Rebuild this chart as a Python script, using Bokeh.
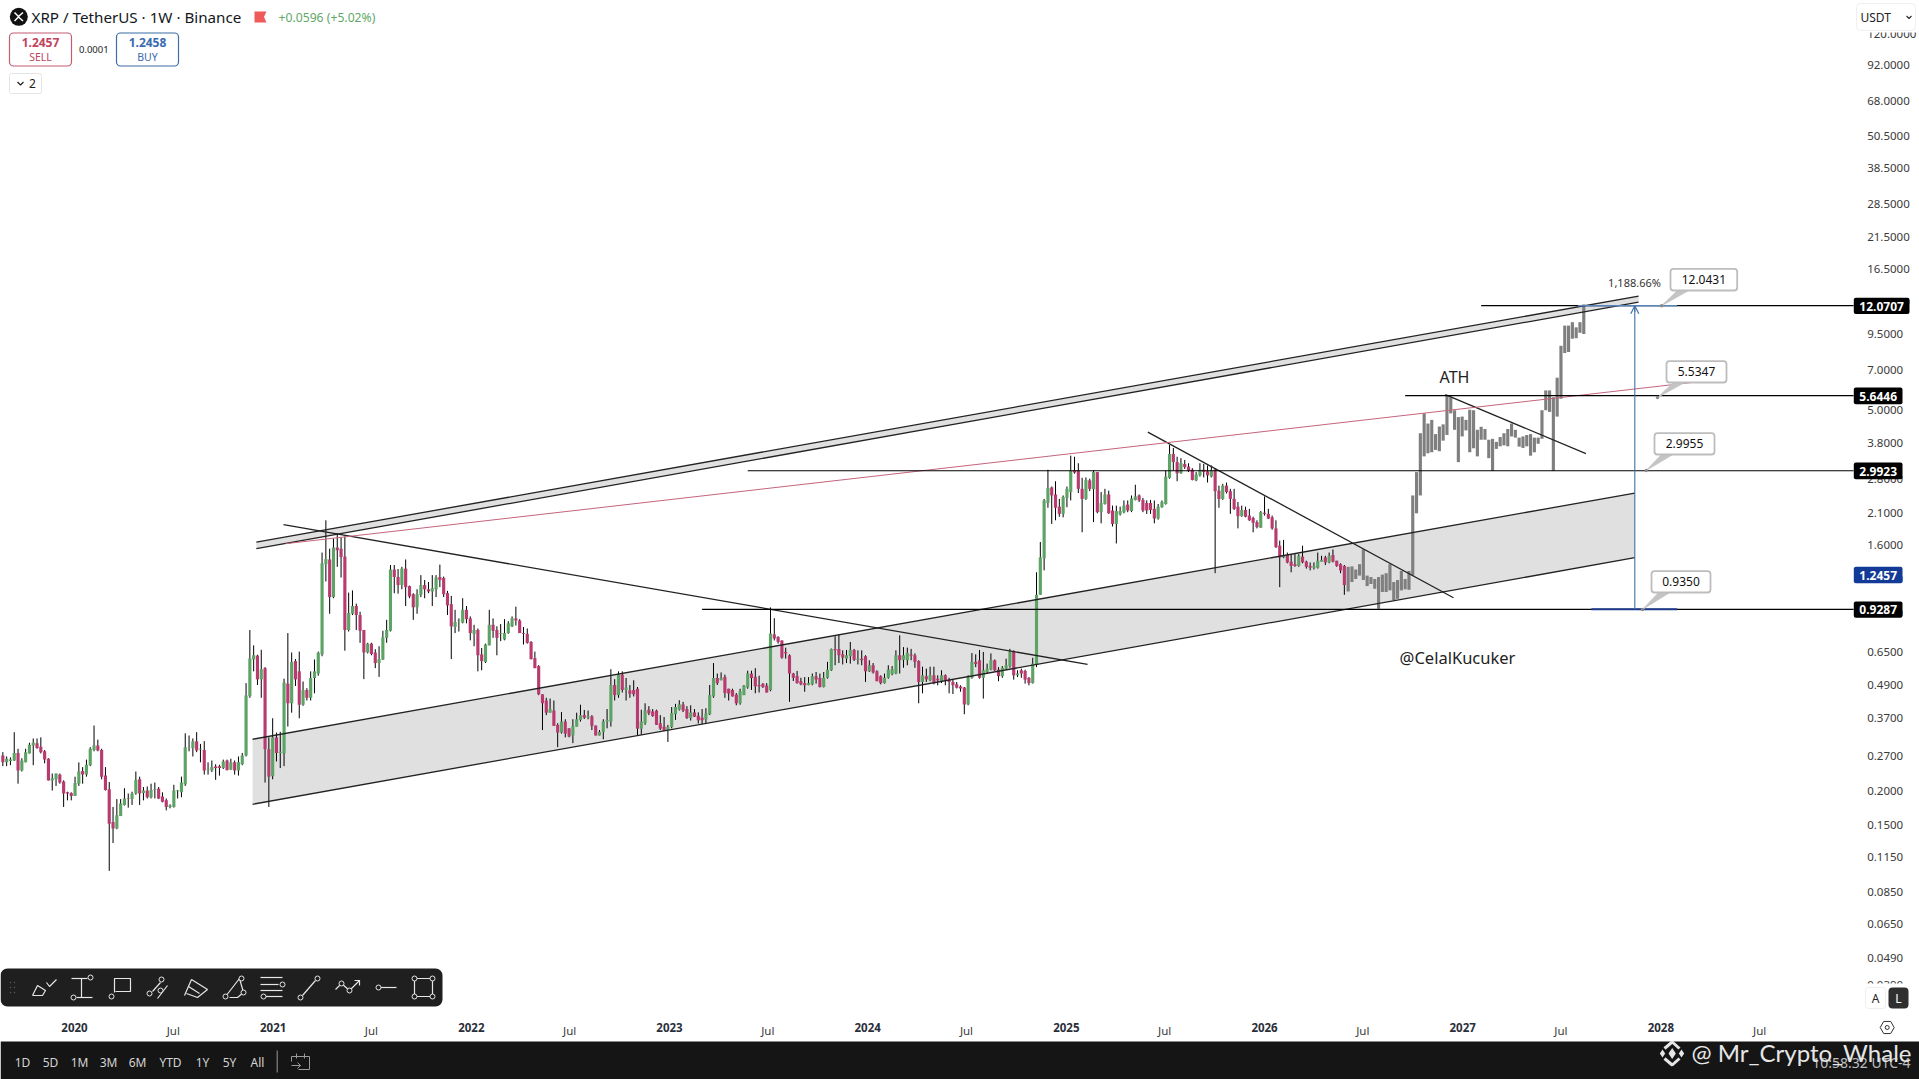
import pandas as pd
from bokeh.plotting import figure
from bokeh.models import (Range1d, LinearScale, LogAxis, LinearAxis, FixedTicker, NumeralTickFormatter,
                          BoxAnnotation, Arrow, OpenHead)
from bokeh.core.properties import value
from bokeh.embed import file_html
from bokeh.resources import INLINE

# ---------- weekly candles, (open, high, low, close) ----------
start_a = "2019-08-22"
candles_a = [(.270,.278,.247,.255),(.255,.268,.247,.263),(.258,.266,.249,.261),(.259,.329,.258,.276),(.276,.286,.213,.238),
(.238,.264,.236,.259),(.255,.286,.255,.278),(.275,.301,.275,.296),(.294,.312,.249,.301),(.300,.312,.286,.288),
(.291,.315,.275,.278),(.280,.283,.253,.261),(.263,.264,.219,.219),(.219,.232,.201,.223),(.221,.232,.209,.232),
(.230,.232,.213,.215),(.217,.219,.175,.196),(.198,.199,.185,.196),(.197,.198,.185,.192),(.192,.226,.192,.214),
(.213,.255,.209,.236),(.237,.245,.213,.230),(.230,.261,.226,.250),(.249,.290,.247,.286),(.283,.348,.280,.294),
(.294,.309,.280,.282),(.283,.286,.221,.226),(.228,.245,.201,.202),(.203,.216,.102,.152),(.154,.175,.129,.146),
(.146,.187,.145,.163),(.162,.187,.162,.180),(.178,.205,.177,.188),(.188,.196,.174,.187),(.187,.199,.178,.196),
(.196,.236,.194,.220),(.221,.226,.178,.196),(.197,.207,.185,.201),(.201,.208,.188,.190),(.190,.213,.188,.202),
(.202,.215,.188,.203),(.204,.207,.187,.188),(.191,.198,.182,.183),(.185,.188,.170,.175),(.175,.179,.173,.177),
(.175,.211,.174,.201),(.200,.202,.188,.201),(.198,.226,.190,.215),(.212,.326,.209,.290),(.289,.320,.280,.290),
(.287,.312,.268,.305),(.305,.329,.278,.282),(.284,.298,.255,.286),(.283,.305,.230,.238),(.240,.255,.230,.241),
(.238,.259,.235,.245),(.246,.251,.220,.243),(.247,.250,.228,.243),(.243,.261,.241,.257),(.259,.261,.238,.239),
(.240,.263,.239,.255),(.255,.259,.230,.238),(.238,.268,.228,.255),(.251,.276,.249,.270),(.270,.498,.268,.449)]

start_b = "2020-11-19"
candles_b = [(.446,.78,.44,.613),(.608,.685,.55,.63),(.628,.633,.49,.514),(.514,.66,.44,.56),(.565,.57,.215,.285),
(.285,.315,.175,.226),(.227,.37,.221,.315),(.315,.328,.257,.276),(.276,.33,.243,.279),(.275,.517,.247,.50),
(.496,.76,.345,.42),(.42,.645,.388,.595),(.60,.61,.486,.514),(.55,.65,.37,.415),(.415,.505,.411,.47),
(.47,.477,.43,.44),(.44,.55,.43,.52),(.52,.608,.457,.55),(.54,.65,.53,.643),(.635,1.5,.625,1.37),
(1.36,1.97,1.175,1.42),(1.415,1.55,.895,1.03),(1.03,1.69,1.02,1.565),(1.565,1.77,1.33,1.53),(1.55,1.71,1.215,1.445),
(1.45,1.72,.655,.78),(.78,1.07,.77,.90),(.895,1.09,.885,.955),(.955,.975,.78,.885),(.885,.91,.70,.775),
(.78,.78,.515,.645),(.645,.70,.64,.695),(.695,.70,.63,.637),(.645,.663,.565,.59),(.59,.68,.525,.61),
(.608,.775,.605,.733),(.73,.85,.70,.78),(.775,1.35,.77,1.30),(1.30,1.35,1.064,1.22),(1.22,1.305,1.06,1.14),
(1.14,1.33,1.10,1.31),(1.31,1.415,.955,1.12),(1.13,1.135,1.02,1.035),(1.055,1.064,.85,.945),(.945,1.10,.895,1.055),
(1.05,1.24,1.03,1.14),(1.14,1.19,1.02,1.10),(1.10,1.17,1.064,1.08),(1.08,1.24,.955,1.11),(1.10,1.24,1.03,1.215),
(1.22,1.355,1.12,1.19),(1.21,1.225,1.03,1.055),(1.065,1.085,.885,.96),(.97,1.04,.61,.804),(.80,.925,.76,.835),
(.845,.86,.77,.85),(.83,1.02,.825,.925),(.925,.955,.825,.855),(.86,.875,.715,.76),(.755,.815,.68,.78),
(.78,.79,.55,.63),(.635,.67,.555,.60),(.595,.695,.59,.69),(.685,.925,.685,.815),(.815,.86,.73,.775),
(.78,.805,.63,.73),(.755,.82,.71,.76),(.72,.855,.715,.76),(.76,.84,.755,.825),(.805,.875,.80,.86),
(.86,.95,.81,.845),(.845,.855,.76,.76),(.76,.80,.69,.755),(.755,.79,.695,.70),(.705,.71,.608,.61),
(.615,.65,.565,.565),(.575,.58,.45,.453),(.453,.453,.335,.42),(.43,.44,.38,.388),(.388,.437,.388,.40),
(.395,.43,.347,.347),(.35,.355,.29,.328),(.328,.39,.325,.36),(.36,.367,.315,.325),(.34,.34,.315,.317),
(.32,.367,.30,.347),(.345,.388,.345,.367),(.365,.415,.36,.38),(.38,.397,.368,.372),(.372,.395,.367,.376),
(.376,.38,.335,.347),(.348,.348,.32,.32),(.32,.335,.32,.33),(.33,.367,.31,.36),(.36,.40,.34,.365),
(.36,.56,.345,.49),(.49,.515,.43,.45),(.45,.55,.44,.535),(.535,.55,.46,.47),(.47,.52,.43,.48)]

start_c = "2022-10-20"
candles_c = [(.468,.49,.44,.455),(.47,.51,.445,.453),(.475,.482,.32,.339),(.339,.398,.322,.36),(.355,.42,.35,.395),
(.398,.41,.38,.386),(.392,.40,.375,.377),(.395,.398,.35,.35),(.355,.38,.335,.339),(.345,.374,.333,.333),
(.335,.35,.303,.344),(.344,.407,.34,.387),(.383,.418,.365,.407),(.398,.431,.395,.416),(.416,.425,.39,.395),
(.40,.41,.368,.371),(.371,.413,.363,.389),(.389,.40,.374,.375),(.378,.389,.354,.364),(.372,.40,.352,.364),
(.366,.403,.355,.385),(.383,.49,.38,.45),(.445,.59,.44,.52),(.52,.54,.49,.498),(.51,.545,.51,.52),
(.525,.535,.44,.458),(.475,.475,.43,.456),(.47,.475,.445,.445),(.452,.458,.413,.42),(.42,.475,.415,.465),
(.45,.49,.45,.488),(.48,.553,.475,.54),(.54,.553,.47,.52),(.525,.565,.457,.485),(.49,.53,.46,.485),
(.495,.498,.478,.482),(.488,.498,.46,.46)]

start_d = "2023-07-06"
candles_d = [(.469,.944,.465,.757),(.752,.862,.714,.726),(.735,.74,.695,.705),(.714,.714,.612,.618),(.648,.672,.612,.64),
(.63,.635,.425,.54),(.54,.543,.507,.521),(.529,.552,.496,.498),(.506,.521,.489,.493),(.498,.524,.463,.489),
(.49,.524,.489,.498),(.493,.54,.489,.528),(.528,.547,.496,.513),(.52,.54,.48,.482),(.482,.547,.48,.521),
(.521,.596,.517,.558),(.555,.667,.552,.664),(.664,.74,.579,.657),(.664,.752,.59,.63),(.635,.657,.583,.618),
(.612,.659,.59,.63),(.625,.705,.587,.659),(.659,.665,.60,.606),(.606,.657,.583,.612),(.612,.657,.579,.604),
(.625,.63,.503,.55),(.55,.604,.547,.579),(.579,.59,.54,.545),(.55,.555,.506,.506),(.528,.532,.493,.498),
(.498,.54,.496,.521),(.521,.579,.517,.558),(.537,.575,.532,.56),(.54,.657,.537,.63),(.63,.746,.54,.604),
(.606,.675,.567,.63),(.604,.672,.579,.643),(.634,.665,.604,.628),(.63,.64,.567,.596),(.60,.604,.42,.503),
(.503,.572,.457,.532),(.528,.563,.503,.514),(.51,.572,.506,.532),(.532,.572,.493,.498),(.517,.532,.489,.51),
(.506,.555,.498,.532),(.532,.536,.489,.51),(.512,.521,.457,.503),(.503,.513,.454,.489),(.493,.503,.476,.479),
(.484,.489,.463,.476),(.48,.482,.383,.416),(.416,.532,.413,.524),(.521,.642,.517,.596),(.596,.635,.57,.585),
(.604,.659,.517,.521),(.521,.648,.437,.555),(.547,.587,.54,.563),(.558,.64,.555,.604),(.604,.608,.552,.555),
(.558,.57,.506,.528),(.528,.575,.521,.567),(.563,.612,.558,.579),(.575,.665,.567,.648),(.652,.657,.513,.532),
(.532,.555,.524,.54),(.555,.563,.521,.54),(.552,.558,.496,.513),(.521,.524,.489,.498),(.498,.617,.496,.587)]

start_e = "2024-11-07"
candles_e = [(.58,1.27,.57,1.05),(1.05,1.64,1.05,1.44),(1.43,2.36,1.29,2.33),(2.28,3.02,2.19,2.59),(2.60,2.62,1.91,2.43),
(2.45,2.74,1.97,2.19),(2.21,2.36,2.03,2.08),(2.08,2.43,2.02,2.40),(2.38,2.62,2.20,2.57),(2.50,3.40,2.33,3.00),
(3.00,3.37,2.92,2.95),(3.00,3.19,2.48,2.57),(2.57,2.82,1.78,2.36),(2.36,2.83,2.34,2.77),(2.76,2.80,2.52,2.57),
(2.56,3.00,1.94,2.96),(2.96,2.96,2.09,2.11),(2.11,2.50,1.92,2.28),(2.26,2.57,2.25,2.45),(2.45,2.53,2.08,2.09),
(2.14,2.23,1.87,1.91),(1.91,2.23,1.62,2.13),(2.07,2.21,2.05,2.13),(2.11,2.33,2.09,2.23),(2.25,2.33,2.11,2.14),
(2.13,2.43,2.11,2.37),(2.34,2.66,2.33,2.41),(2.43,2.45,2.30,2.33),(2.34,2.38,2.11,2.14),(2.28,2.33,2.08,2.14),
(2.28,2.34,2.08,2.15),(2.17,2.33,1.92,2.00),(2.00,2.26,1.98,2.21),(2.20,2.33,2.19,2.30),(2.26,3.00,2.25,2.85),
(2.82,3.72,2.80,3.45),(3.45,3.63,3.00,3.22),(3.22,3.37,2.74,2.93),(2.93,3.33,2.92,3.19),(3.17,3.28,3.04,3.09),
(3.10,3.19,2.96,3.00),(3.02,3.06,2.76,2.77),(2.76,2.96,2.74,2.90),(2.88,3.19,2.85,3.02),(3.02,3.17,2.83,2.96),
(2.98,3.13,2.71,2.88),(2.85,3.13,2.83,3.00),(3.02,3.06,1.26,2.52),(2.53,2.64,2.19,2.36),(2.36,2.68,2.34,2.64),
(2.64,2.71,2.47,2.50),(2.52,2.57,2.08,2.36),(2.36,2.57,2.15,2.17),(2.21,2.30,1.84,2.04),(2.04,2.23,2.03,2.15),
(2.15,2.21,2.02,2.03),(2.05,2.17,1.96,1.97),(2.01,2.03,1.78,1.93),(1.94,1.97,1.84,1.86),(1.85,2.13,1.85,2.11),
(2.10,2.41,2.05,2.08),(2.08,2.17,1.99,2.00),(2.02,2.05,1.82,1.84),(1.84,1.97,1.56,1.57),(1.59,1.66,1.12,1.44),
(1.44,1.67,1.43,1.47),(1.47,1.50,1.37,1.38),(1.39,1.48,1.27,1.34),(1.36,1.48,1.33,1.34),(1.34,1.48,1.33,1.46),
(1.45,1.59,1.37,1.38),(1.39,1.40,1.31,1.33),(1.34,1.38,1.29,1.32),(1.32,1.38,1.30,1.34),(1.32,1.50,1.31,1.40),
(1.39,1.46,1.39,1.41),(1.44,1.46,1.35,1.38),(1.38,1.50,1.37,1.46),(1.47,1.54,1.38,1.39),(1.40,1.40,1.33,1.34),
(1.36,1.37,1.26,1.29),(1.34,1.35,1.05,1.14)]

# the grey copy of the earlier move, (low, high) of each bar
start_grey = "2026-06-04"
grey_bars = [(1.08,1.33),(1.17,1.335),(1.20,1.30),(1.235,1.36),(1.19,1.54),(1.13,1.235),(1.15,1.22),(1.105,1.20),
(.933,1.22),(1.075,1.245),(1.075,1.26),(1.09,1.36),(1.005,1.17),(1.015,1.19),(1.09,1.285),(1.10,1.20),(1.095,1.285),
(1.235,2.43),(2.09,2.96),(2.43,4.11),(3.38,4.86),(3.47,4.46),(3.50,4.60),(3.57,4.08),(3.53,4.35),(3.86,4.43),
(4.05,5.66),(4.86,5.57),(4.23,4.99),(3.22,4.71),(4.00,4.73),(4.21,4.60),(3.50,5.01),(3.62,4.99),(3.38,4.23),
(3.89,4.34),(3.89,4.26),(3.33,3.89),(2.99,3.92),(3.60,3.82),(3.68,3.98),(3.71,4.11),(3.68,4.26),(4.00,4.46),
(3.96,4.23),(3.67,3.96),(3.63,4.00),(3.68,4.05),(3.40,4.08),(3.50,3.96),(3.76,3.96),(3.92,4.99),(4.99,5.90),
(4.92,5.90),(2.99,5.57),(4.73,6.57),(5.50,8.60),(8.09,10.2),(8.16,10.2),(9.13,10.5),(9.17,10.05),(9.60,10.5),(9.50,12.2)]

# ---------- drawn trend lines and levels ----------
lower_channel_dates = ["2020-11-24", "2027-11-14"]
lower_channel_top = [.310, 2.48]
lower_channel_bottom = [.179, 1.436]
upper_band_dates = ["2020-12-01", "2027-11-21"]
upper_band_top = [1.638, 13.09]
upper_band_bottom = [1.55, 12.44]
pink_dates = ["2021-01-24", "2028-05-02"]
pink_prices = [1.617, 6.53]
fall_1_dates = ["2021-01-20", "2025-02-09"]
fall_1_prices = [1.90, .583]
fall_2_dates = ["2025-05-31", "2026-12-15"]
fall_2_prices = [4.15, 1.024]
fall_3_dates = ["2026-11-30", "2027-08-16"]
fall_3_prices = [5.69, 3.46]
level_prices = [12.0707, 5.6446, 2.9923, 0.9287]
level_starts = ["2027-02-04", "2026-09-17", "2023-05-25", "2023-03-02"]
level_end = "2028-12-21"
measure_date = "2027-11-14"
measure_top = 12.0707
measure_bottom = 0.9287
measure_blue_start = ["2027-08-01", "2027-08-26"]
measure_blue_end = "2028-01-31"

price_ticks = [120, 92, 68, 50.5, 38.5, 28.5, 21.5, 16.5, 12.5, 9.5, 7, 5, 3.8, 2.8, 2.1, 1.6, 1.2, 0.9, 0.65,
               0.49, 0.37, 0.27, 0.2, 0.15, 0.115, 0.085, 0.065, 0.049, 0.039]
year_ticks = ["2020", "2021", "2022", "2023", "2024", "2025", "2026", "2027", "2028"]
july_ticks = ["2020", "2021", "2022", "2023", "2024", "2025", "2026", "2027", "2028"]
periods = ["1D", "5D", "1M", "3M", "6M", "YTD", "1Y", "5Y", "All"]

DAY = 86400000.0
def ms(d):
    return pd.Timestamp(d).timestamp() * 1000.0
def msl(ds):
    return [ms(d) for d in ds]

ORIGIN = ms("2020-01-01")
p = figure(width=1919, height=1079, output_backend="svg", toolbar_location=None,
           x_axis_location=None, y_axis_location=None, y_axis_type="log",
           x_range=Range1d(ORIGIN - 136.3 * DAY, ORIGIN + 3398.4 * DAY),
           y_range=Range1d(0.01751, 158.9),
           min_border_left=0, min_border_right=0, min_border_top=0, min_border_bottom=0,
           outline_line_color=None, background_fill_color="white", border_fill_color="white")
p.grid.visible = False
p.extra_x_ranges = {"px": Range1d(0, 1919)}
p.extra_y_ranges = {"px": Range1d(1079, 0)}
p.extra_x_scales = {"px": LinearScale()}
p.extra_y_scales = {"px": LinearScale()}

UI = "Noto Sans"
GREEN, PINK, GREY, BLACK = "#5da365", "#b83a6f", "#7f7f7f", "#161616"

# fills
p.varea(msl(lower_channel_dates), lower_channel_bottom, lower_channel_top, fill_color="#e0e0e0")
p.varea(msl(upper_band_dates), upper_band_bottom, upper_band_top, fill_color="#e0e0e0")

# candles
BAR_DAYS = 5.8
for start, rows in [(start_a, candles_a), (start_b, candles_b), (start_c, candles_c), (start_d, candles_d), (start_e, candles_e)]:
    xs = [ms(d) for d in pd.date_range(start, periods=len(rows), freq="7D")]
    o = [r[0] for r in rows]; h = [r[1] for r in rows]; l = [r[2] for r in rows]; c = [r[3] for r in rows]
    p.segment(xs, l, xs, h, line_color="#000000", line_width=1)
    p.vbar(x=xs, width=BAR_DAYS * DAY, bottom=[min(a, b) for a, b in zip(o, c)], top=[max(a, b) for a, b in zip(o, c)],
           fill_color=[GREEN if b >= a else PINK for a, b in zip(o, c)], line_color=None)
gx = [ms(d) for d in pd.date_range(start_grey, periods=len(grey_bars), freq="7D")]
p.vbar(x=gx, width=BAR_DAYS * DAY, bottom=[g[0] for g in grey_bars], top=[g[1] for g in grey_bars], fill_color=GREY, line_color=None)

# trend lines
for ds, ys in [(lower_channel_dates, lower_channel_top), (lower_channel_dates, lower_channel_bottom),
               (upper_band_dates, upper_band_top), (upper_band_dates, upper_band_bottom),
               (fall_1_dates, fall_1_prices), (fall_2_dates, fall_2_prices), (fall_3_dates, fall_3_prices)]:
    p.line(msl(ds), ys, line_color="#222222", line_width=1.3)
p.line(msl(pink_dates), pink_prices, line_color="#c4647c", line_width=1.0)
for d0, lv in zip(level_starts, level_prices):
    p.line(msl([d0, level_end]), [lv, lv], line_color="#000000", line_width=1.1)
p.line(msl([measure_blue_start[1], measure_blue_end]), [measure_bottom, measure_bottom], line_color="#1c3a8c", line_width=2)
p.line(msl([measure_blue_start[0], measure_blue_end]), [measure_top, measure_top], line_color="#5a86bd", line_width=1.5)
p.line(msl([measure_date, measure_date]), [measure_bottom, measure_top], line_color="#3f70a8", line_width=1.1)
p.add_layout(Arrow(end=OpenHead(size=8, line_color="#3f70a8", line_width=1.2), line_color="#3f70a8", line_width=1.1,
                   x_start=ms(measure_date), y_start=measure_top * 0.95, x_end=ms(measure_date), y_end=measure_top))

# axes drawn inside the frame
price_axis = LogAxis(fixed_location=ORIGIN + 3291.0 * DAY, ticker=FixedTicker(ticks=price_ticks),
                     formatter=NumeralTickFormatter(format="0.0000"), axis_line_color=None,
                     major_tick_line_color=None, minor_tick_line_color=None, major_label_standoff=0,
                     major_label_text_font=UI, major_label_text_font_size="11.5px", major_label_text_color="#3a3a3a")
p.add_layout(price_axis, "right")
def time_axis(ticks, labels, style, color):
    return LinearAxis(fixed_location=0.0298, ticker=FixedTicker(ticks=ticks),
                      major_label_overrides={int(t): s for t, s in zip(ticks, labels)}, axis_line_color=None,
                      major_tick_line_color=None, minor_tick_line_color=None, major_label_standoff=0,
                      major_label_text_font=UI, major_label_text_font_size="11.5px",
                      major_label_text_font_style=style, major_label_text_color=color)
p.add_layout(time_axis(msl([y + "-01-01" for y in year_ticks]), year_ticks, "bold", "#2a2e39"), "below")
p.add_layout(time_axis(msl([y + "-07-01" for y in july_ticks]), ["Jul"] * len(july_ticks), "normal", "#3a3a3a"), "below")

# ---------- chrome, in page pixels ----------
PX = dict(x_range_name="px", y_range_name="px")
def box(l, r, t, b, fill="white", line=None, lw=1, radius=0, alpha=1):
    p.add_layout(BoxAnnotation(left=l, right=r, top=t, bottom=b, fill_color=fill, fill_alpha=alpha,
                               line_color=line, line_alpha=1, line_width=lw, border_radius=radius,
                               level="annotation", **PX))
def txt(x, y, s, size, color, align="center", style="normal", font=UI):
    p.text([x], [y], text=[s], text_font=value(font), text_font_size=f"{size}px", text_color=color,
           text_align=align, text_baseline="middle", text_font_style=style, level="overlay", **PX)
def strokes(paths, color, lw=1.2, level="overlay"):
    p.multi_line([[q[0] for q in s] for s in paths], [[q[1] for q in s] for s in paths],
                 line_color=color, line_width=lw, level=level, **PX)
def rings(pts, color, size=5, bg="#1f1f1f"):
    p.scatter([q[0] for q in pts], [q[1] for q in pts], marker="circle", size=size, fill_color=bg,
              line_color=color, line_width=1, level="overlay", **PX)

# header
p.scatter([18.3], [16.3], marker="circle", size=18, fill_color="#111111", line_color=None, level="overlay", **PX)
strokes([[(14, 12), (18, 16), (22.5, 12)], [(14, 20.5), (18, 16.5), (22.5, 20.5)]], "white", 1.5)
txt(31, 16.5, "XRP / TetherUS · 1W · Binance", 15.2, "#131722", "left")
p.patch([254, 266, 263.5, 266, 254], [11, 11, 16.5, 22, 22], fill_color="#f05a5a", line_color=None, level="overlay", **PX)
txt(278, 16.5, "+0.0596 (+5.02%)", 12.2, "#62a868", "left")
box(9, 71, 32.5, 65.5, line="#c25d72", lw=1.2, radius=4)
txt(40, 41.7, "1.2457", 12, "#c0445f", style="bold")
txt(40, 56, "SELL", 10.5, "#c0445f")
txt(93.3, 48.7, "0.0001", 9.5, "#222222")
box(116, 178, 32.5, 65.5, line="#3a6ea5", lw=1.2, radius=4)
txt(147, 41.7, "1.2458", 12, "#3a6ab0", style="bold")
txt(147, 56, "BUY", 10.5, "#3a6ab0")
box(9, 41, 73, 93, line="#e4e4e4", radius=2)
strokes([[(17, 81.5), (20, 84.5), (23, 81.5)]], "#222222", 1.2)
txt(32, 83, "2", 12, "#222222")

# top right
box(1855, 1919, 0, 32)
box(1856, 1915, 3, 30, line="#efefef", radius=4)
txt(1860, 16.5, "USDT", 12, "#222222", "left")
strokes([[(1906, 15.5), (1908.5, 18), (1911, 15.5)]], "#333333", 1.2)

# callouts
for (l, r, t, b, tip, s) in [(1670, 1736.7, 268.3, 290, (1661, 305.3), "12.0431"),
                             (1666, 1726, 360.7, 382, (1657, 397), "5.5347"),
                             (1654, 1714, 432.7, 454, (1645.7, 470), "2.9955"),
                             (1651, 1710, 570.7, 592, (1642, 609), "0.9350")]:
    p.patch([l + 8, tip[0], l + 20], [b - 1, tip[1], b - 1], fill_color="#c4c4c4", line_color="#c4c4c4", line_width=0.8,
            level="annotation", **PX)
    box(l, r, t, b, line="#bdbdbd", lw=1.8, radius=3)
    txt((l + r) / 2, (t + b) / 2, s, 12, "#111111")
    p.scatter([tip[0]], [tip[1]], marker="circle", size=3.5, fill_color="#8a8a8a", line_color=None, level="overlay", **PX)
txt(1634, 281.7, "1,188.66%", 11, "#333333")

# price tags
for (l, r, t, b, col, s) in [(1853.3, 1909, 297.3, 313.5, "#000000", "12.0707"),
                             (1853.3, 1902, 387, 403.7, "#000000", "5.6446"),
                             (1853.3, 1902, 462, 478.7, "#000000", "2.9923"),
                             (1853.3, 1902, 566.3, 582.7, "#123a96", "1.2457"),
                             (1853.3, 1902, 601, 617.3, "#000000", "0.9287")]:
    box(l, r, t, b, fill=col, radius=2)
    txt((l + r) / 2, (t + b) / 2 + 0.3, s, 12, "white", style="bold")

# free text on the chart
txt(1454, 376, "ATH", 16, "#222222")
txt(1457, 657, "@CelalKucuker", 16.5, "#222222")

# lower right
box(1855, 1919, 983, 1041)
box(1865, 1885, 987, 1008, line="#eeeeee", radius=3)
txt(1875, 997.5, "A", 12, "#222222")
box(1888, 1908, 987, 1008, fill="#2f2f2f", radius=4)
txt(1898, 997.5, "L", 12, "white")
p.scatter([1886.7], [1027], marker="hex", size=14, fill_color="white", line_color="#333333", line_width=1, level="overlay", **PX)
p.scatter([1886.7], [1027], marker="circle", size=4, fill_color="white", line_color="#333333", line_width=1, level="overlay", **PX)

# drawing toolbar
box(0, 442, 968, 1006, fill="#1f1f1f", radius=7)
p.scatter([10, 14, 10, 14, 10, 14], [982, 982, 987, 987, 992, 992], marker="circle", size=1.6, fill_color="#555555", line_color=None, level="overlay", **PX)
W = "#e6e6e6"
strokes([[(32, 995), (37, 985), (45, 990), (42, 995), (32, 995)], [(46, 982), (49, 986), (56, 979)],
         [(71, 978), (87, 978)], [(81, 978), (81, 997)], [(76, 997), (92, 997)],
         [(114, 992), (114, 978), (130, 978), (130, 991), (115, 991)],
         [(152, 991), (160, 982)], [(157, 998), (167, 985)],
         [(184, 995), (191, 979), (207, 989), (197, 997), (186, 993)], [(188, 986), (199, 993)],
         [(225, 996), (239, 978), (243, 992), (237, 997), (229, 997)],
         [(260, 977), (282, 977)], [(260, 984), (278, 984)], [(260, 990), (282, 990)], [(263, 996), (282, 996)],
         [(302, 995), (315, 980)],
         [(335, 989), (341, 983), (349, 990), (359, 980)], [(354, 980), (359, 980), (359, 985)],
         [(380, 987), (396, 987)],
         [(414, 978), (432, 978), (432, 996), (414, 996), (414, 978)]], W)
rings([(90, 977), (73, 997), (111, 996), (149, 993), (161, 979), (160, 990), (225, 996), (241, 978), (243, 992),
       (282, 984), (263, 996), (300, 997), (317, 978), (341, 983), (349, 990), (378, 987),
       (414, 978), (432, 978), (432, 996), (414, 996)], W)

# bottom bar
box(0, 1919, 1041, 1079, fill="#151515")
for x, s in zip([22, 50, 79, 108, 137, 170, 202, 229, 257], periods):
    txt(x, 1061.5, s, 12, "#d4d4d4")
strokes([[(276.7, 1050), (276.7, 1072)],
         [(291, 1056), (309, 1056), (309, 1069), (298, 1069)], [(291, 1056), (291, 1061)], [(296, 1053), (296, 1058)], [(304, 1053), (304, 1058)],
         [(291, 1065), (300, 1065)], [(297, 1062), (300, 1065), (297, 1068)]], "#9a9a9a", 1)
txt(1910, 1061.5, "10:58:32 UTC-4", 14, "#bdbdbd", "right")
L = "#e6e6e6"
strokes([[(1664, 1048), (1671.7, 1041.5), (1679, 1048)], [(1664, 1058), (1671.7, 1064.5), (1679, 1058)]], L, 3)
p.scatter([1662, 1671.7, 1681], [1053, 1053, 1053], marker="diamond", size=[8, 11, 8], fill_color=L, line_color=None, level="overlay", **PX)
txt(1691, 1052, "@ Mr_Crypto_Whale", 24, L, "left", font="Lato")

open("out.html", "w").write(file_html(p, INLINE))
